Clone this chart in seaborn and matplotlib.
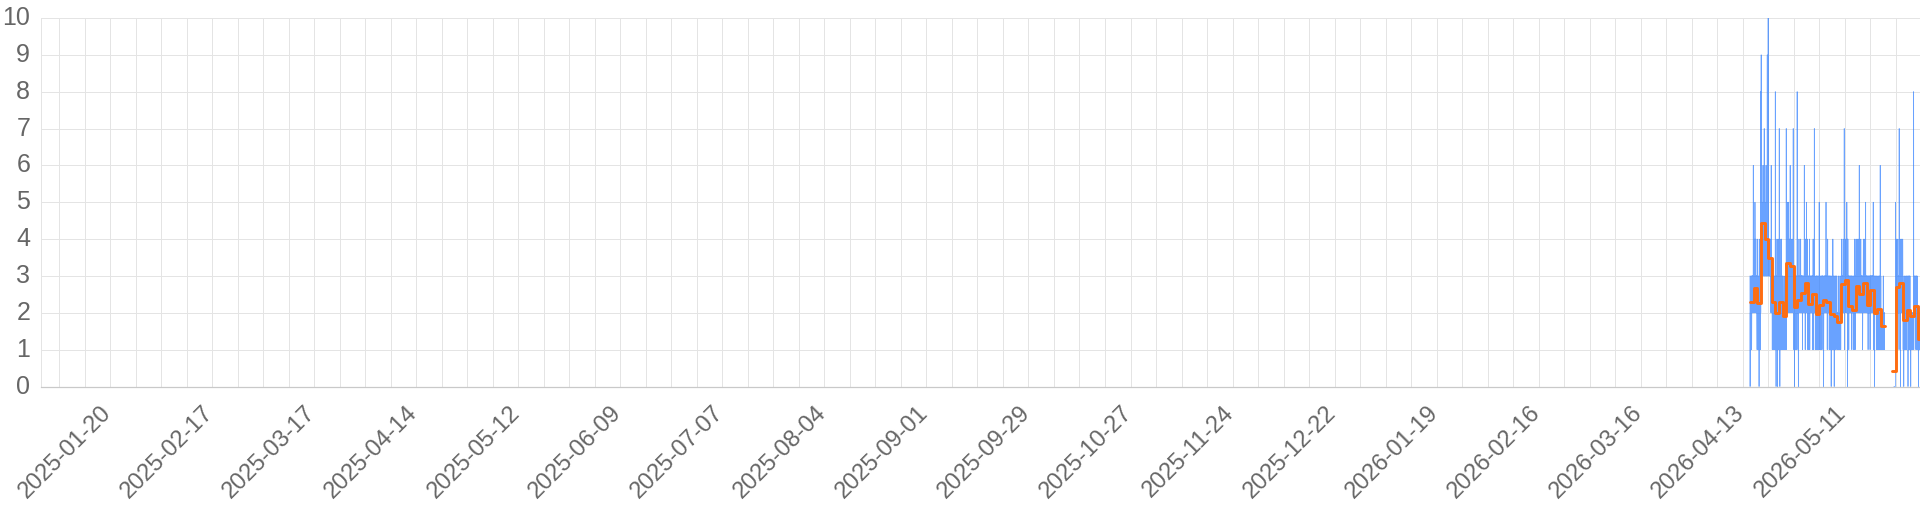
import numpy as np
import pandas as pd
import matplotlib
matplotlib.use("Agg")
import matplotlib.pyplot as plt
import matplotlib.dates as mdates
import matplotlib.ticker as mticker
import matplotlib.transforms as mtransforms
import seaborn as sns

# ---------------- data ----------------
x_start = "2025-01-01 00:00"
x_end = "2026-05-31 16:00"

tick_labels = [
    "2025-01-20", "2025-02-17", "2025-03-17", "2025-04-14", "2025-05-12",
    "2025-06-09", "2025-07-07", "2025-08-04", "2025-09-01", "2025-09-29",
    "2025-10-27", "2025-11-24", "2025-12-22", "2026-01-19", "2026-02-16",
    "2026-03-16", "2026-04-13", "2026-05-11",
]
y_ticks = [0, 1, 2, 3, 4, 5, 6, 7, 8, 9, 10]

# daily average (orange step line); NaN = no data that day
daily_dates = pd.date_range("2026-04-15", "2026-05-31", freq="D")
daily_mean = [
    2.28, 2.66, 2.26, 4.43, 4.00, 3.50, 2.30, 2.00, 2.30, 1.90,   # Apr 15-24
    3.34, 3.27, 2.17, 2.35, 2.55, 2.82,                           # Apr 25-30
    2.24, 2.52, 1.97, 2.20, 2.35, 2.30, 1.98, 1.92, 1.75, 2.77,   # May 1-10
    2.90, 2.19, 2.07, 2.72, 2.52, 2.82, 2.21, 2.62, 2.00, 2.09,   # May 11-20
    1.63, np.nan, np.nan, 0.42, 2.70, 2.80, 1.80, 2.07, 1.90,     # May 21-29
    2.18, 1.28,                                                   # May 30-31
]

# hourly readings (blue line): first timestamp of each block + values per hour
hourly_start = [
    "2026-04-15 00:00", "2026-04-16 00:00", "2026-04-17 00:00", "2026-04-18 00:00",
    "2026-04-19 00:00", "2026-04-20 00:00", "2026-04-21 00:00", "2026-04-22 00:00",
    "2026-04-23 00:00", "2026-04-24 00:00", "2026-04-25 00:00", "2026-04-26 00:00",
    "2026-04-27 00:00", "2026-04-28 00:00", "2026-04-29 00:00", "2026-04-30 00:00",
    "2026-05-01 00:00", "2026-05-02 00:00", "2026-05-03 00:00", "2026-05-04 00:00",
    "2026-05-05 00:00", "2026-05-06 00:00", "2026-05-07 00:00", "2026-05-08 00:00",
    "2026-05-09 00:00", "2026-05-10 00:00", "2026-05-11 00:00", "2026-05-12 00:00",
    "2026-05-13 00:00", "2026-05-14 00:00", "2026-05-15 00:00", "2026-05-16 00:00",
    "2026-05-17 00:00", "2026-05-18 00:00", "2026-05-19 00:00", "2026-05-20 00:00",
    "2026-05-21 00:00", "2026-05-24 12:00", "2026-05-25 00:00", "2026-05-26 00:00",
    "2026-05-27 00:00", "2026-05-28 00:00", "2026-05-29 00:00", "2026-05-30 00:00",
    "2026-05-31 00:00",
]
hourly_values = [
    [3, 0, 2, 2, 1, 2, 3, 2, 2, 3, 2, 1, 2, 3, 2, 2, 3, 2, 3, 2, 3, 2, 6, 2],
    [3, 2, 3, 4, 2, 3, 2, 3, 2, 5, 3, 2, 3, 2, 3, 4, 2, 3, 2, 3, 2, 3, 2, 1],
    [2, 1, 2, 4, 2, 1, 2, 2, 3, 3, 1, 2, 0, 2, 4, 2, 1, 2, 3, 2, 1, 2, 8, 2],
    [4, 5, 9, 4, 3, 5, 4, 4, 4, 4, 5, 4, 4, 4, 6, 4, 3, 5, 4, 4, 3, 4, 7, 3],
    [4, 3, 4, 5, 4, 3, 4, 4, 3, 4, 6, 3, 4, 4, 3, 4, 3, 4, 9, 4, 3, 4, 3, 4],
    [10, 3, 4, 3, 3, 4, 3, 3, 3, 3, 4, 3, 3, 3, 3, 4, 3, 3, 2, 3, 6, 3, 2, 3],
    [3, 2, 2, 1, 2, 3, 2, 2, 1, 2, 3, 2, 2, 3, 2, 1, 2, 2, 3, 2, 1, 2, 2, 8],
    [2, 3, 2, 1, 0, 2, 3, 2, 1, 2, 4, 2, 1, 2, 0, 3, 2, 2, 4, 2, 1, 2, 3, 2],
    [2, 7, 2, 1, 2, 0, 2, 3, 2, 1, 2, 3, 4, 2, 1, 2, 4, 2, 2, 3, 2, 1, 2, 3],
    [2, 1, 2, 2, 1, 2, 1, 2, 3, 1, 2, 2, 1, 2, 1, 2, 3, 2, 1, 2, 1, 2, 1, 7],
    [3, 4, 3, 2, 4, 3, 5, 3, 4, 3, 3, 4, 2, 3, 5, 4, 3, 3, 4, 3, 2, 4, 3, 3],
    [3, 6, 3, 4, 3, 2, 3, 4, 3, 3, 2, 3, 3, 3, 4, 3, 2, 3, 3, 3, 3, 7, 2, 3],
    [2, 1, 2, 3, 2, 0, 2, 2, 3, 1, 2, 2, 3, 2, 1, 2, 3, 2, 1, 2, 2, 3, 1, 8],
    [2, 3, 2, 2, 2, 3, 2, 0, 2, 3, 2, 4, 2, 2, 2, 3, 2, 3, 2, 2, 3, 2, 4, 2],
    [3, 2, 3, 2, 3, 2, 3, 2, 3, 2, 1, 3, 2, 3, 3, 2, 3, 2, 2, 2, 2, 3, 6, 2],
    [3, 2, 4, 3, 1, 3, 3, 4, 2, 3, 3, 2, 5, 3, 2, 3, 3, 4, 2, 3, 3, 1, 3, 3],
    [2, 3, 2, 1, 2, 3, 2, 2, 4, 2, 1, 2, 3, 2, 2, 3, 2, 2, 2, 3, 2, 2, 3, 2],
    [2, 3, 2, 3, 2, 1, 3, 2, 4, 2, 3, 2, 1, 3, 2, 2, 7, 2, 3, 2, 3, 2, 2, 2],
    [2, 1, 2, 3, 2, 1, 3, 2, 1, 3, 2, 2, 1, 3, 3, 2, 1, 2, 2, 3, 1, 2, 2, 1],
    [5, 2, 1, 2, 3, 2, 2, 1, 2, 3, 2, 2, 1, 2, 3, 2, 2, 3, 2, 1, 2, 3, 2, 3],
    [2, 3, 2, 2, 2, 0, 2, 3, 2, 2, 3, 2, 2, 3, 2, 3, 2, 2, 3, 2, 2, 5, 2, 3],
    [3, 2, 2, 3, 2, 1, 2, 3, 4, 2, 2, 2, 2, 3, 2, 2, 3, 2, 1, 2, 3, 2, 2, 3],
    [2, 1, 2, 3, 2, 2, 2, 0, 2, 3, 2, 2, 1, 2, 3, 2, 1, 2, 4, 2, 2, 2, 3, 1],
    [2, 1, 2, 0, 2, 3, 2, 1, 2, 2, 3, 2, 2, 2, 1, 3, 2, 2, 2, 2, 3, 2, 1, 2],
    [2, 1, 2, 1, 2, 2, 1, 2, 3, 1, 2, 2, 1, 2, 2, 1, 2, 3, 2, 1, 2, 2, 1, 2],
    [3, 2, 3, 2, 4, 3, 2, 3, 2, 3, 2, 3, 3, 2, 4, 2, 3, 2, 3, 2, 3, 7, 2, 1],
    [3, 3, 4, 3, 2, 3, 3, 2, 4, 3, 2, 3, 3, 2, 5, 3, 3, 4, 3, 0, 3, 4, 3, 2],
    [2, 3, 2, 1, 2, 3, 2, 2, 3, 2, 2, 2, 3, 2, 2, 2, 3, 2, 2, 3, 2, 2, 3, 1],
    [2, 2, 2, 3, 2, 2, 2, 2, 3, 2, 2, 1, 2, 3, 2, 2, 1, 2, 4, 2, 2, 1, 2, 2],
    [3, 2, 3, 4, 2, 3, 2, 3, 3, 2, 4, 3, 2, 3, 2, 3, 3, 2, 4, 2, 3, 2, 3, 2],
    [6, 2, 3, 2, 2, 3, 2, 2, 3, 2, 4, 2, 2, 3, 2, 3, 2, 2, 3, 2, 3, 2, 1, 2],
    [3, 2, 3, 4, 2, 3, 3, 2, 3, 4, 2, 3, 3, 2, 3, 3, 2, 3, 5, 2, 3, 3, 2, 3],
    [2, 3, 2, 2, 2, 3, 2, 2, 3, 2, 1, 2, 3, 2, 2, 3, 2, 2, 2, 3, 2, 2, 3, 1],
    [3, 2, 3, 2, 3, 3, 2, 3, 2, 3, 2, 3, 3, 2, 3, 3, 2, 3, 2, 3, 5, 2, 3, 1],
    [2, 1, 2, 3, 2, 0, 2, 3, 2, 2, 2, 2, 3, 2, 2, 2, 3, 2, 2, 1, 2, 3, 2, 1],
    [2, 1, 2, 2, 3, 1, 2, 2, 1, 2, 3, 2, 1, 2, 2, 3, 1, 2, 6, 2, 1, 2, 3, 2],
    [2, 1, 2, 1, 2, 2, 1, 2, 1, 2, 2, 1, 2, 1, 3, 2, 1, 2, 1, 2, 2, 1, 2, 1],
    [0, 0, 0, 0, 0, 0, 0, 0, 0, 0, 0, 5],
    [2, 3, 2, 3, 4, 2, 3, 2, 3, 2, 2, 3, 2, 3, 4, 2, 3, 2, 3, 2, 3, 2, 1, 7],
    [3, 3, 3, 4, 2, 3, 3, 0, 3, 2, 4, 3, 2, 3, 3, 2, 4, 3, 2, 3, 3, 2, 4, 3],
    [2, 1, 2, 2, 2, 0, 2, 3, 1, 2, 2, 1, 2, 3, 2, 1, 2, 2, 1, 2, 3, 2, 1, 2],
    [2, 3, 2, 2, 2, 2, 3, 2, 2, 0, 2, 3, 2, 2, 1, 3, 2, 2, 3, 2, 1, 2, 3, 2],
    [2, 1, 2, 0, 2, 1, 2, 2, 2, 2, 2, 1, 2, 2, 2, 2, 1, 2, 2, 1, 2, 2, 8, 1],
    [2, 3, 2, 2, 2, 3, 2, 2, 2, 2, 3, 2, 2, 1, 3, 2, 2, 3, 2, 1, 2, 3, 2, 2],
    [1, 2, 1, 1, 2, 1, 0, 1, 2, 1, 1, 2, 1, 1, 2, 1, 2],
]

# ---------------- frames ----------------
rows = []
for start, vals in zip(hourly_start, hourly_values):
    t0 = pd.Timestamp(start)
    for h, v in enumerate(vals):
        rows.append((t0 + pd.Timedelta(hours=h), v))
hourly = pd.DataFrame(rows, columns=["time", "value"]).sort_values("time")
hourly["segment"] = (hourly["time"].diff() > pd.Timedelta(hours=1)).cumsum()

daily = pd.DataFrame({"time": daily_dates, "value": daily_mean}).dropna()
daily["segment"] = (daily["time"].diff() > pd.Timedelta(days=1)).cumsum()
# close each step segment at the end of its last day
ends = daily.groupby("segment").tail(1).copy()
ends["time"] = ends["time"] + pd.Timedelta(days=1)
daily_steps = pd.concat([daily, ends]).sort_values(["segment", "time"])

# ---------------- plot ----------------
sns.set_style("white")
plt.rcParams["font.family"] = ["Liberation Sans", "DejaVu Sans"]

W, H = 1920, 512
fig = plt.figure(figsize=(W / 100, H / 100), dpi=100)
left, right, top, bottom = 41, 1920, 18, 386.5
ax = fig.add_axes([left / W, (H - bottom) / H, (right - left) / W, (bottom - top) / H])

grid_c = "#e4e4e4"
text_c = "#666666"

sns.lineplot(data=hourly, x="time", y="value", units="segment", estimator=None,
             color="#2a7bff", alpha=0.7, linewidth=0.55, ax=ax, legend=False)
sns.lineplot(data=daily_steps, x="time", y="value", units="segment", estimator=None,
             color="#ff6d10", linewidth=2.1, drawstyle="steps-post", ax=ax, legend=False)

ax.set_xlim(pd.Timestamp(x_start), pd.Timestamp(x_end))
ax.set_ylim(0, 10)
ax.set_yticks(y_ticks)
ax.set_yticklabels([str(v) for v in y_ticks])

ax.xaxis.set_major_locator(mdates.WeekdayLocator(byweekday=mdates.MO, interval=1))
label_set = set(tick_labels)
ax.xaxis.set_major_formatter(mticker.FuncFormatter(
    lambda v, p: mdates.num2date(v).strftime("%Y-%m-%d")
    if mdates.num2date(v).strftime("%Y-%m-%d") in label_set else ""))

ax.grid(True, color=grid_c, linewidth=0.72)
ax.set_axisbelow(True)
for s in ["top", "right"]:
    ax.spines[s].set_visible(False)
ax.spines["left"].set_color(grid_c)
ax.spines["left"].set_linewidth(0.72)
ax.spines["bottom"].set_color("#c9c9c9")
ax.spines["bottom"].set_linewidth(0.9)

ax.tick_params(axis="both", length=5.76, width=0.72, colors=text_c)
ax.tick_params(axis="both", which="both", color=grid_c)
ax.tick_params(axis="y", labelsize=18, pad=2)
ax.tick_params(axis="x", labelsize=17, pad=11)

x_shift = mtransforms.ScaledTranslation(-2 / 100, 0, fig.dpi_scale_trans)
for lab in ax.get_xticklabels():
    lab.set_rotation(45)
    lab.set_horizontalalignment("right")
    lab.set_verticalalignment("center")
    lab.set_rotation_mode("anchor")
    lab.set_transform(lab.get_transform() + x_shift)
y_shift = mtransforms.ScaledTranslation(0, 2.5 / 100, fig.dpi_scale_trans)
for lab in ax.get_yticklabels():
    lab.set_transform(lab.get_transform() + y_shift)

ax.set_xlabel("")
ax.set_ylabel("")

fig.savefig("out.png", dpi=100, facecolor="white")
